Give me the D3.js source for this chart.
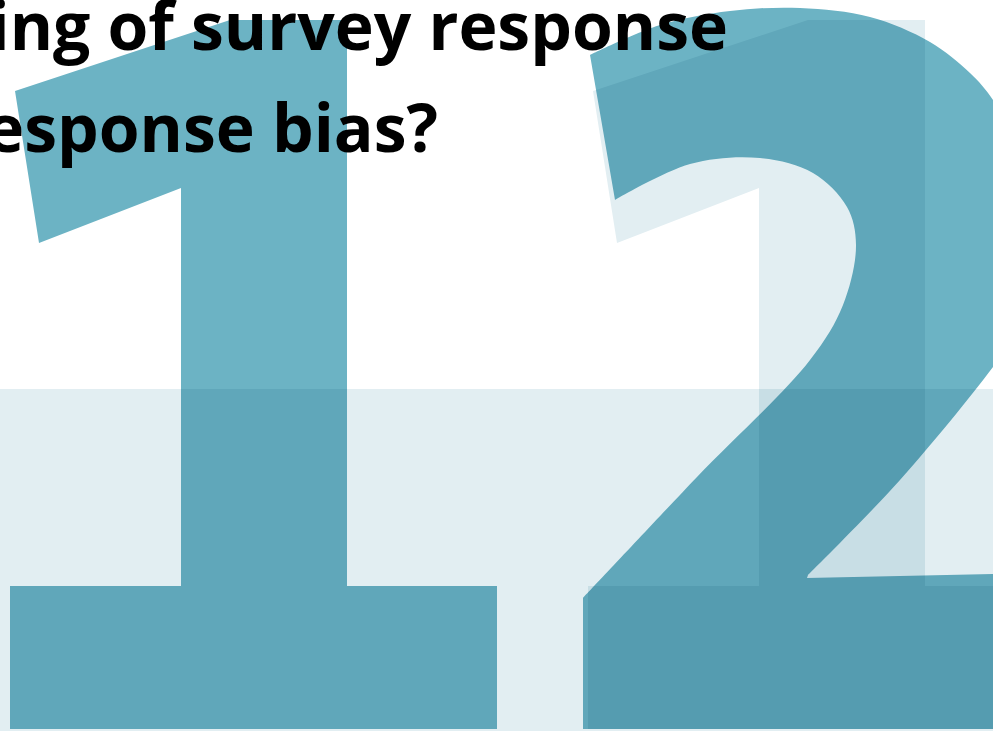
<!DOCTYPE html>
<html>
<head>
<meta charset="utf-8">
<script src="https://cdn.jsdelivr.net/npm/d3@7"></script>
<style>
  html, body { margin: 0; padding: 0; background: #fff; overflow: hidden; }
  svg { display: block; isolation: isolate; background: #fff; }
  .shape { mix-blend-mode: multiply; }
  .title { font-family: "Open Sans", sans-serif; font-weight: 700; font-size: 66px; fill: #000; }
</style>
</head>
<body>
<svg id="chart" width="993" height="731"></svg>
<script>
// title lines, the start of each line runs off the left edge
const titleLines = ['ing of survey response', 'response bias?'];

// "1" outline in glyph units (x right, y up from the baseline)
const oneOutline = [[5, 638], [220, 709], [337, 709], [337, 143], [487, 143], [487, 0],
  [0, 0], [0, 143], [171, 143], [171, 541], [29, 486]];

// "2" outline, split in straight and curved runs
const twoStem = [[0, 0], [0, 131]];
const twoCounter = [[0, 131], [114, 252], [227, 369], [260, 424], [273, 484], [264, 522],
  [230, 556], [177, 571], [107, 565], [32, 529]];
const twoSpine = [[32, 529], [7, 674]];
const twoBowl = [[7, 674], [77, 704], [147, 718], [217, 721], [287, 712], [347, 687],
  [387, 656], [410, 629], [447, 559], [459, 469], [442, 409], [410, 362], [317, 249],
  [225, 154]];
const twoBase = [[224, 151], [410, 155], [520, 156], [520, 0]];

// pale band over the lower part, glyph units
const bandExtent = [-2, 340];

const width = 993, height = 731;
const svg = d3.select('#chart');

const colors = { teal: '#6cb3c4', pale: '#e2eef2' };

// glyph units -> px
const y = d3.scaleLinear().domain([0, 709]).range([729, 20]);
const x = d3.scaleLinear().domain([0, 1000]).range([10, 1010]);

// where each digit sits (glyph units from the left of the first "1")
const digits = [
  { name: 'one', offset: 0, tone: 'teal' },
  { name: 'one', offset: 578, tone: 'pale' },
  { name: 'two', offset: 573, tone: 'teal' },
];

function run(points, offset, curved) {
  return d3.line()
    .x(d => x(d[0] + offset))
    .y(d => y(d[1]))
    .curve(curved ? d3.curveCatmullRom.alpha(0.5) : d3.curveLinear)(points);
}

function glyphPath(d) {
  if (d.name === 'one') {
    return run(oneOutline, d.offset, false) + 'Z';
  }
  const parts = [
    [twoStem, false], [twoCounter, true], [twoSpine, false], [twoBowl, true], [twoBase, false],
  ];
  return parts.map((p, i) => {
    const s = run(p[0], d.offset, p[1]);
    return i === 0 ? s : 'L' + s.slice(1);
  }).join('') + 'Z';
}

// band first (multiply, so order does not matter much)
svg.append('rect')
  .attr('class', 'shape')
  .attr('x', 0)
  .attr('width', width)
  .attr('y', y(bandExtent[1]))
  .attr('height', y(bandExtent[0]) - y(bandExtent[1]))
  .attr('fill', colors.pale);

svg.selectAll('.digit')
  .data(digits)
  .enter()
  .append('path')
  .attr('class', 'digit shape')
  .attr('d', glyphPath)
  .attr('fill', d => colors[d.tone]);

// title
const titleX = [728, 438];
const titleY = [50, 152];
svg.selectAll('.title')
  .data(titleLines)
  .enter()
  .append('text')
  .attr('class', 'title')
  .attr('text-anchor', 'end')
  .attr('x', (d, i) => titleX[i])
  .attr('y', (d, i) => titleY[i])
  .text(d => d);
</script>
</body>
</html>
